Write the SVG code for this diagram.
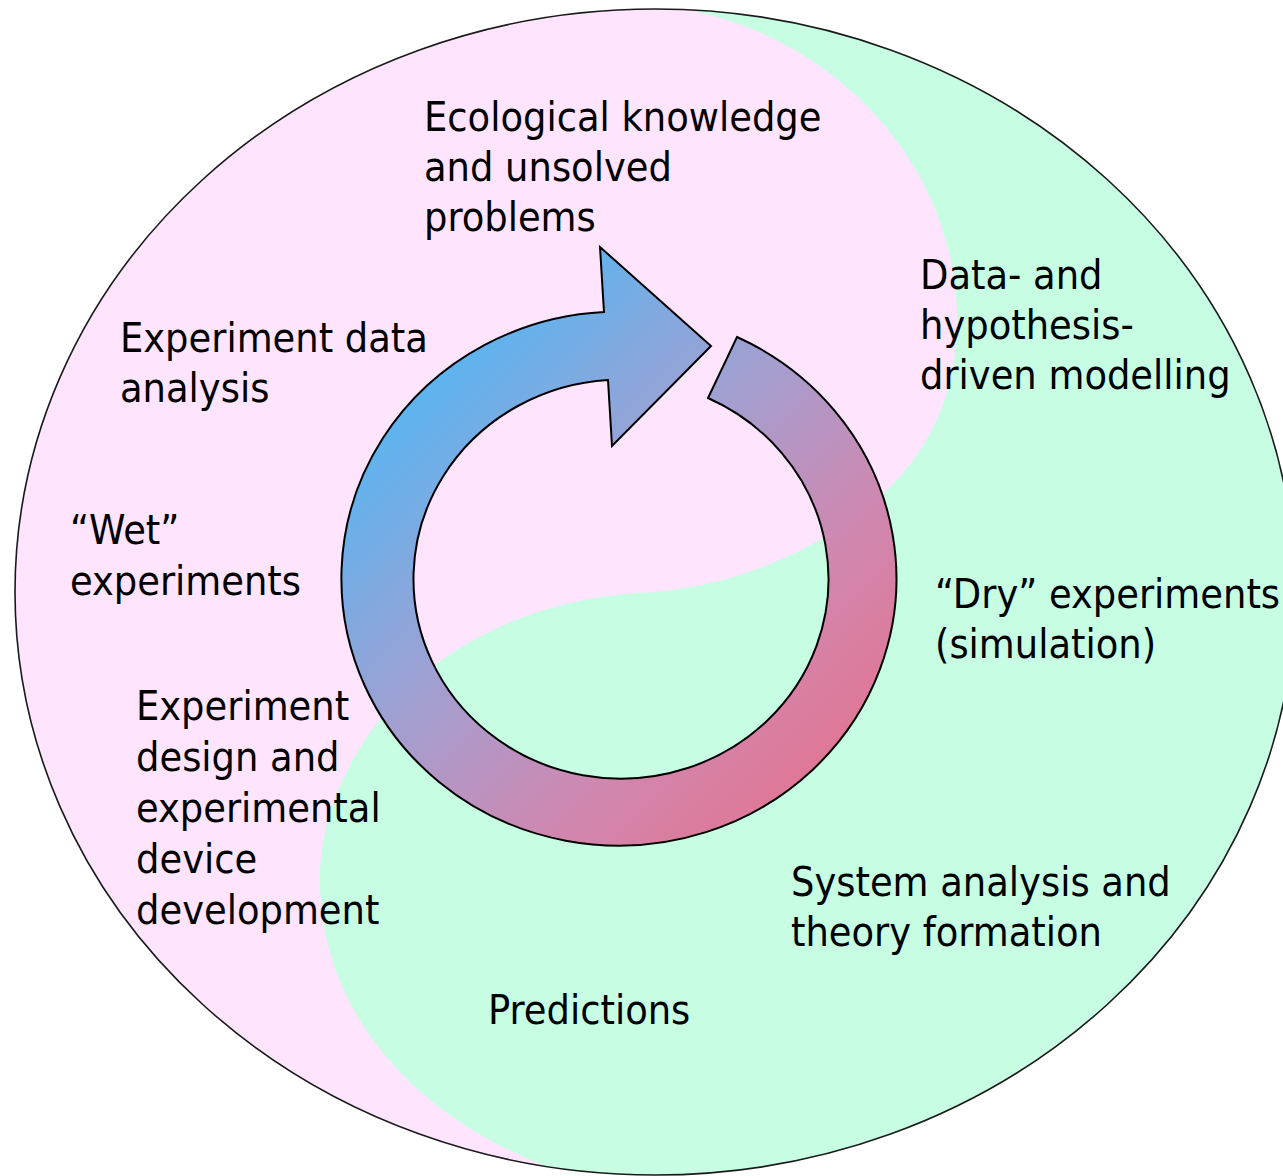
<svg xmlns="http://www.w3.org/2000/svg" width="1283" height="1176" viewBox="0 0 1283 1176">
  <defs>
    <style>
      .lbl { font-family: "DejaVu Sans Condensed", "DejaVu Sans", sans-serif; font-stretch: condensed; font-size: 41px; fill: #000; }
    </style>
    <clipPath id="oval">
      <ellipse cx="655" cy="592" rx="640" ry="583"/>
    </clipPath>
    <linearGradient id="ringFill" gradientUnits="userSpaceOnUse" x1="400" y1="350" x2="850" y2="800">
      <stop offset="0" stop-color="#4fb8f5"/>
      <stop offset="0.4" stop-color="#a0a0d2"/>
      <stop offset="0.7" stop-color="#cf88b0"/>
      <stop offset="1" stop-color="#e5728f"/>
    </linearGradient>
  </defs>

  <rect width="1283" height="1176" fill="#ffffff"/>

  <!-- background: green oval with pink left lobe -->
  <g id="background">
    <ellipse cx="655" cy="592" rx="640" ry="583" fill="#c6fde3"/>
    <path clip-path="url(#oval)" fill="#fee4fc"
          d="M 690,-5 L 697,12 C 830,40 957,160 957,320 C 957,400 925,455 880,497 C 820,550 730,590 636,593 C 540,600 445,640 387,711 C 345,760 320,820 320,880 C 320,1000 400,1110 548,1167 L 540,1190 L -10,1190 L -10,-10 Z"/>
    <ellipse cx="655" cy="592" rx="640" ry="583" fill="none" stroke="#1a1a1a" stroke-width="1.6"/>
  </g>

  <!-- circular arrow -->
  <g id="connectors">
    <path id="cycle-arrow" fill="url(#ringFill)" stroke="#000" stroke-width="2" stroke-linejoin="miter"
          d="M 737,337 A 277.5 267 0 1 1 604,312 L 600,247 L 711,346 L 612,446 L 608,380 A 207.5 199.5 0 1 0 708,398 Z"/>
  </g>

  <g id="ecological-knowledge">
    <text class="lbl" x="424" y="131">Ecological knowledge</text>
    <text class="lbl" x="424" y="181">and unsolved</text>
    <text class="lbl" x="424" y="231">problems</text>
  </g>

  <g id="modelling">
    <text class="lbl" x="920" y="289">Data- and</text>
    <text class="lbl" x="920" y="339">hypothesis-</text>
    <text class="lbl" x="920" y="389">driven modelling</text>
  </g>

  <g id="data-analysis">
    <text class="lbl" x="120" y="352">Experiment data</text>
    <text class="lbl" x="120" y="402">analysis</text>
  </g>

  <g id="wet-experiments">
    <text class="lbl" x="70" y="544">“Wet”</text>
    <text class="lbl" x="70" y="595">experiments</text>
  </g>

  <g id="dry-experiments">
    <text class="lbl" x="935" y="608">“Dry” experiments</text>
    <text class="lbl" x="935" y="658">(simulation)</text>
  </g>

  <g id="experiment-design">
    <text class="lbl" x="136" y="720">Experiment</text>
    <text class="lbl" x="136" y="771">design and</text>
    <text class="lbl" x="136" y="822">experimental</text>
    <text class="lbl" x="136" y="873">device</text>
    <text class="lbl" x="136" y="924">development</text>
  </g>

  <g id="system-analysis">
    <text class="lbl" x="791" y="896">System analysis and</text>
    <text class="lbl" x="791" y="946">theory formation</text>
  </g>

  <g id="predictions">
    <text class="lbl" x="488" y="1024">Predictions</text>
  </g>
</svg>
